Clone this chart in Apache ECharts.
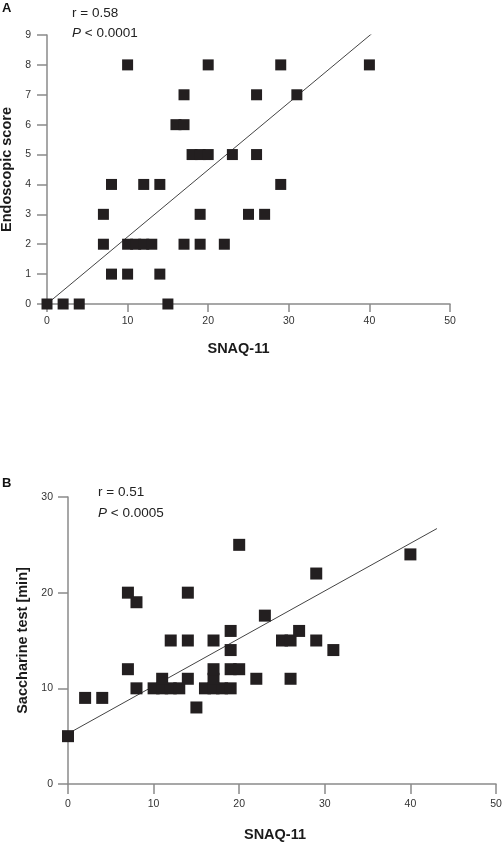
<!DOCTYPE html>
<html>
<head>
<meta charset="utf-8">
<script src="https://cdn.jsdelivr.net/npm/echarts@6/dist/echarts.min.js"></script>
<style>
html,body{margin:0;padding:0;background:#fff;}
#chart{width:502px;height:842px;}
</style>
</head>
<body>
<div id="chart"></div>
<script>
// Panel A: SNAQ-11 vs Endoscopic score
const snaqA = [0,2,4,15, 8,10,14, 7,10,11,12,13,17,19,22, 7,19,25,27, 8,12,14,29, 18,19,20,23,26, 16,17, 17,26,31, 10,20,29,40];
const endoA = [0,0,0,0, 1,1,1, 2,2,2,2,2,2,2,2, 3,3,3,3, 4,4,4,4, 5,5,5,5,5, 6,6, 7,7,7, 8,8,8,8];
const fitA = [[0.3, 0.07], [41.7, 9.36]];
const yTicksA = {min: 0, max: 9, interval: 1};

// Panel B: SNAQ-11 vs Saccharine test [min]
const snaqB = [0,2,4,7,7,8,8, 10,11,12,13,11,14, 12,14,14,15, 16,17,18,19,17,17, 17,19,20,19,19,20, 22,23,25,26,26,27,29,29,31,40];
const sacchB = [5,9,9,12,20,19,10, 10,10,10,10,11,11, 15,15,20,8, 10,10,10,10,11,12, 15,12,12,14,16,25, 11,17.6,15,15,11,16,15,22,14,24];
const fitB = [[0.4, 5.46], [43.1, 26.7]];
const yTicksB = {min: 0, max: 30, interval: 10};
const xTicks = {min: 0, max: 50, interval: 10};

const FONT = "'Liberation Sans', Arial, sans-serif";
const axisCol = '#8a8a8a';
const markCol = '#231f20';
const NAME_SIZE = 14.5;

function pairs(xs, ys){ return xs.map((x,i)=>[x, ys[i]]); }

function axisBase(tickLen, labelMargin){
  return {
    axisLine: {show: true, onZero: false, lineStyle: {color: axisCol, width: 1.5}},
    axisTick: {show: true, inside: false, length: tickLen, lineStyle: {color: axisCol, width: 1.5}},
    splitLine: {show: false},
    axisLabel: {color: '#333', fontSize: 10.5, fontFamily: FONT, margin: labelMargin},
    nameTextStyle: {color: '#1a1a1a', fontSize: NAME_SIZE, fontWeight: 'bold', fontFamily: FONT}
  };
}

const chart = echarts.init(document.getElementById('chart'), null, {renderer: 'canvas'});
const option = {
  animation: false,
  backgroundColor: '#fff',
  grid: [
    {left: 47, top: 35, width: 403, height: 269, containLabel: false, outerBoundsMode: 'none'},
    {left: 68, top: 497, width: 428, height: 287, containLabel: false, outerBoundsMode: 'none'}
  ],
  xAxis: [
    Object.assign(axisBase(8, 12), {
      gridIndex: 0, type: 'value', min: xTicks.min, max: xTicks.max, interval: xTicks.interval,
      name: 'SNAQ-11', nameLocation: 'middle', nameGap: 37,
      nameTextStyle: {color: '#1a1a1a', fontSize: NAME_SIZE, fontWeight: 'bold', fontFamily: FONT, padding: [0, 20, 0, 0]}
    }),
    Object.assign(axisBase(10, 15), {
      gridIndex: 1, type: 'value', min: xTicks.min, max: xTicks.max, interval: xTicks.interval,
      name: 'SNAQ-11', nameLocation: 'middle', nameGap: 43,
      nameTextStyle: {color: '#1a1a1a', fontSize: NAME_SIZE, fontWeight: 'bold', fontFamily: FONT, padding: [0, 14, 0, 0]}
    })
  ],
  yAxis: [
    Object.assign(axisBase(10, 16), {
      gridIndex: 0, type: 'value', min: yTicksA.min, max: yTicksA.max, interval: yTicksA.interval,
      name: 'Endoscopic score', nameLocation: 'middle', nameGap: 31, nameRotate: 90
    }),
    Object.assign(axisBase(10, 15), {
      gridIndex: 1, type: 'value', min: yTicksB.min, max: yTicksB.max, interval: yTicksB.interval,
      name: 'Saccharine test [min]', nameLocation: 'middle', nameGap: 35, nameRotate: 90
    })
  ],
  series: [
    {type: 'line', xAxisIndex: 0, yAxisIndex: 0, data: fitA, symbol: 'none',
     lineStyle: {color: '#444', width: 1}, z: 1},
    {type: 'scatter', xAxisIndex: 0, yAxisIndex: 0, data: pairs(snaqA, endoA),
     symbol: 'rect', symbolSize: 11, itemStyle: {color: markCol, opacity: 1}, z: 2},
    {type: 'line', xAxisIndex: 1, yAxisIndex: 1, data: fitB, symbol: 'none',
     lineStyle: {color: '#444', width: 1}, z: 1},
    {type: 'scatter', xAxisIndex: 1, yAxisIndex: 1, data: pairs(snaqB, sacchB),
     symbol: 'rect', symbolSize: 12, itemStyle: {color: markCol, opacity: 1}, z: 2}
  ],
  graphic: [
    {type: 'text', left: 2, top: 2, style: {text: 'A', font: "bold 13px " + FONT, fill: '#111'}},
    {type: 'text', left: 72, top: 6, style: {text: 'r = 0.58', font: "13.5px " + FONT, fill: '#222'}},
    {type: 'text', left: 72, top: 26, style: {
      text: '{i|P} < 0.0001', font: "13.5px " + FONT, fill: '#222',
      rich: {i: {fontStyle: 'italic', fontSize: 13.5, fontFamily: FONT, fill: '#222'}}}},
    {type: 'text', left: 2, top: 477, style: {text: 'B', font: "bold 13px " + FONT, fill: '#111'}},
    {type: 'text', left: 98, top: 485, style: {text: 'r = 0.51', font: "13.5px " + FONT, fill: '#222'}},
    {type: 'text', left: 98, top: 506, style: {
      text: '{i|P} < 0.0005', font: "13.5px " + FONT, fill: '#222',
      rich: {i: {fontStyle: 'italic', fontSize: 13.5, fontFamily: FONT, fill: '#222'}}}}
  ]
};
chart.setOption(option);
</script>
</body>
</html>
